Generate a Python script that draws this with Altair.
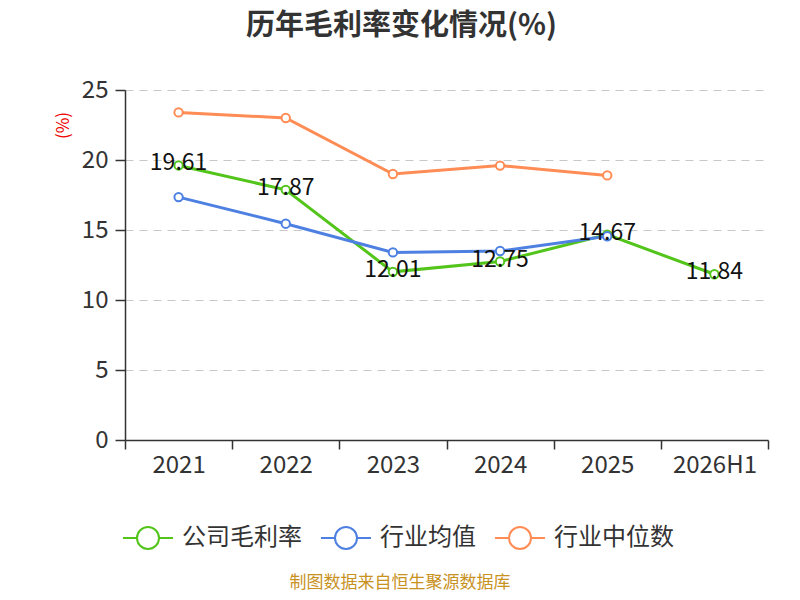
import altair as alt
import pandas as pd

years = ["2021", "2022", "2023", "2024", "2025", "2026H1"]
series_names = ["公司毛利率", "行业均值", "行业中位数"]
company = [19.61, 17.87, 12.01, 12.75, 14.67, 11.84]
industry_avg = [17.35, 15.45, 13.4, 13.5, 14.55, None]
industry_median = [23.4, 23.0, 19.0, 19.6, 18.9, None]
colors = ["#52c41a", "#4e80e2", "#ff8c55"]

rows = []
for name, vals in zip(series_names, [company, industry_avg, industry_median]):
    for y, v in zip(years, vals):
        if v is not None:
            rows.append({"year": y, "series": name, "value": v})
df = pd.DataFrame(rows)
df_company = df[df["series"] == "公司毛利率"].copy()
df_company["label"] = df_company["value"].map(lambda v: f"{v:.2f}")

FONT = "Noto Sans CJK SC"
legend_path = "M-1,0L-0.44,0M0.44,0L1,0M0.44,0A0.44,0.44,0,1,1,-0.44,0A0.44,0.44,0,1,1,0.44,0"

x_enc = alt.X("year:N", sort=years, title=None,
              scale=alt.Scale(domain=years, paddingInner=0, paddingOuter=0),
              axis=alt.Axis(labelAngle=0, labelFontSize=24, labelColor="#333",
                            labelFont=FONT, tickBand="extent", tickSize=9,
                            domainColor="#333", tickColor="#333", domainWidth=1.5,
                            tickWidth=1.5, labelPadding=4, grid=False))
y_enc = alt.Y("value:Q", title="(%)",
              scale=alt.Scale(domain=[0, 25], nice=False),
              axis=alt.Axis(values=[0, 5, 10, 15, 20, 25], labelFontSize=24,
                            labelColor="#333", labelFont=FONT, tickSize=10,
                            domainColor="#333", tickColor="#333", domainWidth=1.5,
                            tickWidth=1.5, labelPadding=7,
                            gridDash=[8, 6], gridColor="#c8c8c8", gridWidth=1.2,
                            titleColor="#ee0000", titleFontSize=17,
                            titleFontWeight="normal", titleFont=FONT,
                            titleAngle=270, titleX=-62, titleY=35,
                            titleAlign="center", titleBaseline="middle"))

color_enc = alt.Color("series:N", sort=series_names,
                      scale=alt.Scale(domain=series_names, range=colors),
                      legend=alt.Legend(title=None, orient="none", direction="horizontal",
                                        legendX=-3, legendY=422,
                                        symbolType=legend_path, symbolSize=2500,
                                        symbolStrokeWidth=2, symbolFillColor="white",
                                        labelFontSize=24, labelColor="#333",
                                        labelFont=FONT, labelOffset=8,
                                        columnPadding=15, labelLimit=300))

lines = alt.Chart(df).mark_line(strokeWidth=3).encode(x=x_enc, y=y_enc, color=color_enc)

points = alt.Chart(df).mark_point(
    shape="circle", filled=False, fill="white", fillOpacity=1, opacity=1,
    size=70, strokeWidth=2,
).encode(x=alt.X("year:N", sort=years), y="value:Q",
         color=alt.Color("series:N", sort=series_names, legend=None))

labels = alt.Chart(df_company).mark_text(
    fontSize=23, color="#111", font=FONT, baseline="middle", dy=-2
).encode(x=alt.X("year:N", sort=years), y="value:Q", text="label:N")

source = alt.Chart(pd.DataFrame({"t": ["制图数据来自恒生聚源数据库"]})).mark_text(
    fontSize=17, color="#c8921f", font=FONT, baseline="middle"
).encode(x=alt.value(275), y=alt.value(493), text="t:N")

chart = alt.layer(lines, points, labels, source).properties(
    width=643, height=350,
    background="white",
    title=alt.Title("历年毛利率变化情况(%)", fontSize=29, fontWeight="bold",
                    font=FONT, color="#333", anchor="middle", dx=-45, offset=37),
    padding={"left": 117, "top": 82, "right": 24, "bottom": 152},
    autosize=alt.AutoSizeParams(type="none"),
).configure_view(stroke=None)

chart.save("out.html", embed_options={"renderer": "svg", "actions": False})
